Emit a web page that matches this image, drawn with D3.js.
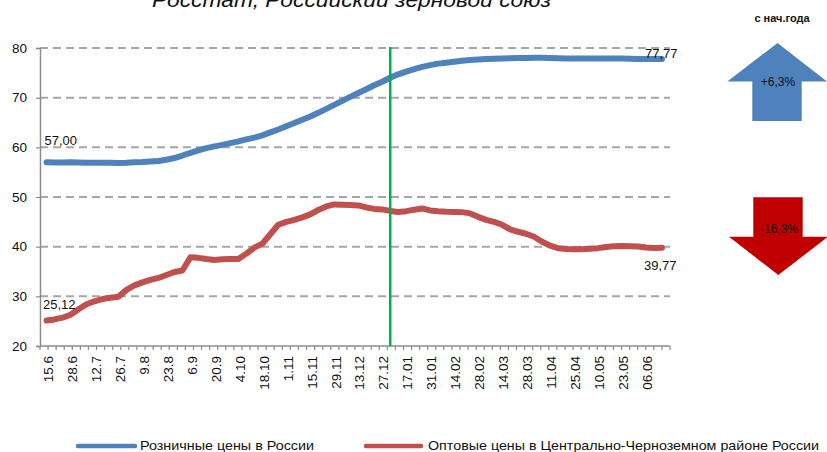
<!DOCTYPE html>
<html><head><meta charset="utf-8">
<script src="https://cdn.jsdelivr.net/npm/d3@7"></script>
<style>
html,body{margin:0;padding:0;background:#fff;}
svg{display:block;font-family:"Liberation Sans",Arial,sans-serif;}
</style></head>
<body>
<svg id="chart" width="827" height="452"></svg>
<script>
const categories = ["15.6","20.6","24.6","28.6","3.7","8.7","12.7","17.7","22.7","26.7","31.7","5.8","9.8","14.8","19.8","23.8","28.8","2.9","6.9","11.9","16.9","20.9","25.9","30.9","4.10","9.10","14.10","18.10","23.10","28.10","1.11","6.11","11.11","15.11","20.11","25.11","29.11","4.12","9.12","13.12","18.12","23.12","27.12","3.01","10.01","17.01","22.01","27.01","31.01","5.02","10.02","14.02","19.02","24.02","28.02","5.03","10.03","14.03","19.03","24.03","28.03","2.04","7.04","11.04","16.04","21.04","25.04","30.04","5.05","10.05","15.05","19.05","23.05","28.05","2.06","06.06","10.06","14.06"];
const tickLabels = ["15.6","28.6","12.7","26.7","9.8","23.8","6.9","20.9","4.10","18.10","1.11","15.11","29.11","13.12","27.12","17.01","31.01","14.02","28.02","14.03","28.03","11.04","25.04","10.05","23.05","06.06"];
const retail = [57.00,56.95,56.95,57.00,56.95,56.90,56.90,56.90,56.90,56.85,56.90,57.00,57.05,57.15,57.25,57.50,57.85,58.35,58.90,59.40,59.85,60.20,60.50,60.85,61.20,61.60,61.95,62.40,63.00,63.60,64.25,64.90,65.55,66.20,66.95,67.75,68.55,69.35,70.15,70.95,71.70,72.50,73.20,74.00,74.70,75.25,75.75,76.20,76.55,76.85,77.05,77.25,77.45,77.60,77.70,77.80,77.85,77.90,77.95,78.00,78.00,78.05,78.05,78.00,77.95,77.90,77.90,77.90,77.90,77.90,77.90,77.90,77.90,77.85,77.80,77.80,77.78,77.77];
const wholesale = [25.12,25.35,25.70,26.30,27.40,28.40,29.00,29.45,29.70,29.90,31.30,32.20,32.80,33.30,33.70,34.30,34.90,35.20,37.85,37.75,37.50,37.30,37.45,37.50,37.50,38.60,39.80,40.60,42.50,44.40,45.00,45.40,45.90,46.50,47.40,48.10,48.50,48.45,48.40,48.30,47.90,47.60,47.50,47.20,47.00,47.15,47.45,47.70,47.30,47.15,47.05,47.00,46.95,46.70,46.00,45.40,45.00,44.40,43.50,43.00,42.60,42.00,41.00,40.20,39.70,39.55,39.50,39.50,39.60,39.70,39.95,40.10,40.15,40.10,40.05,39.85,39.75,39.77];
const seriesNames = ["Розничные цены в России","Оптовые цены в Центрально-Черноземном районе России"];
const yTicks = [20,30,40,50,60,70,80];
const markerCategory = "3.01";
const changeLabels = ["+6,3%","-16,3%"];
const titleText = "Росстат, Российский зерновой союз";
const sideTitle = "с нач.года";

const svg = d3.select("#chart");
const colors = ["#4F81BD","#C0504D"];
const xb = d3.scaleBand().domain(categories).range([40,670]);
const xp = d3.scalePoint().domain(categories).range([46.5,662]);
const y = d3.scaleLinear().domain([20,80]).range([346,48]);

// title (cut at top, as in reference)
svg.append("text").attr("x",152).attr("y",7).attr("font-size",21).attr("font-style","italic")
  .attr("textLength",399).attr("lengthAdjust","spacingAndGlyphs").attr("fill","#111").text(titleText);

// gridlines
svg.append("g").selectAll("line").data(yTicks.filter(v=>v>20)).join("line")
  .attr("x1",40).attr("x2",670).attr("y1",d=>y(d)).attr("y2",d=>y(d))
  .attr("stroke","#a6a6a6").attr("stroke-width",2).attr("stroke-dasharray","8,5");

// y axis
const ya = svg.append("g").attr("transform","translate(40,0)")
  .call(d3.axisLeft(y).tickValues(yTicks).tickSize(4).tickPadding(9).tickFormat(d3.format("d")));
ya.select(".domain").attr("stroke","#8c8c8c").attr("stroke-width",1.5);
ya.selectAll(".tick line").attr("stroke","#8c8c8c").attr("stroke-width",1.2);
ya.selectAll("text").attr("font-size",13.5).attr("fill","#111");

// x axis
const xa = svg.append("g").attr("transform","translate(0,346)")
  .call(d3.axisBottom(xp).tickSize(0).tickFormat(d=>tickLabels.includes(d)?d:""));
xa.select(".domain").remove();
xa.selectAll(".tick").attr("transform",d=>`translate(${xp(d)+1.5},0)`);
xa.append("line").attr("x1",40).attr("x2",670).attr("stroke","#8c8c8c").attr("stroke-width",1.5);
xa.selectAll(".tick text").attr("transform","rotate(-90)").attr("text-anchor","end")
  .attr("x",-10).attr("y",0).attr("dy","0.35em").attr("font-size",13.5).attr("fill","#111");
xa.append("g").selectAll("line").data(d3.range(categories.length+1)).join("line")
  .attr("x1",i=>40+i*xb.step()).attr("x2",i=>40+i*xb.step()).attr("y1",0).attr("y2",4)
  .attr("stroke","#8c8c8c").attr("stroke-width",1.2);

// lines
const line = d3.line().x((d,i)=>xp(categories[i])).y(d=>y(d));
[retail,wholesale].forEach((s,k)=>{
  svg.append("path").datum(s).attr("d",line).attr("fill","none").attr("stroke",colors[k])
    .attr("stroke-width",6).attr("stroke-linejoin","round").attr("stroke-linecap","round");
});

// vertical marker
svg.append("line").attr("x1",xp(markerCategory)).attr("x2",xp(markerCategory))
  .attr("y1",47).attr("y2",346).attr("stroke","#00B050").attr("stroke-width",2.5);

// data labels
const fmt = v => v.toFixed(2).replace(".",",");
const last = categories.length-1;
const lbl = (t,xx,yy)=>svg.append("text").attr("x",xx).attr("y",yy).attr("font-size",13).attr("fill","#111").text(t);
lbl(fmt(retail[0]), xp(categories[0])-2, y(retail[0])-17);
lbl(fmt(wholesale[0]), xp(categories[0])-3.5, y(wholesale[0])-12);
lbl(fmt(retail[last]), xp(categories[last])-17, y(retail[last])-1);
lbl(fmt(wholesale[last]), xp(categories[last])-18, y(wholesale[last])+22);

// side annotations
svg.append("text").attr("x",782).attr("y",22).attr("text-anchor","middle").attr("font-size",11)
  .attr("font-weight","bold").attr("fill","#111").text(sideTitle);
svg.append("polygon").attr("points","777.5,43 827,81.5 801.7,81.5 801.7,121 752.3,121 752.3,81.5 727.3,81.5").attr("fill","#4F81BD");
svg.append("polygon").attr("points","753.3,197.3 802.7,197.3 802.7,236.7 828,236.7 778.3,275 729,236.7 753.3,236.7").attr("fill","#C00000");
svg.append("text").attr("x",778).attr("y",86).attr("text-anchor","middle").attr("font-size",12).attr("fill","#111").text(changeLabels[0]);
svg.append("text").attr("x",779).attr("y",233).attr("text-anchor","middle").attr("font-size",12).attr("fill","#111").text(changeLabels[1]);

// legend
const leg = [{x1:78,x2:135,tx:140,tl:174},{x1:366,x2:421,tx:428,tl:391}];
leg.forEach((l,k)=>{
  svg.append("line").attr("x1",l.x1).attr("x2",l.x2).attr("y1",446).attr("y2",446)
    .attr("stroke",colors[k]).attr("stroke-width",4.5).attr("stroke-linecap","round");
  svg.append("text").attr("x",l.tx).attr("y",450).attr("font-size",13.5).attr("fill","#111")
    .attr("textLength",l.tl).attr("lengthAdjust","spacingAndGlyphs").text(seriesNames[k]);
});
</script>
</body></html>
